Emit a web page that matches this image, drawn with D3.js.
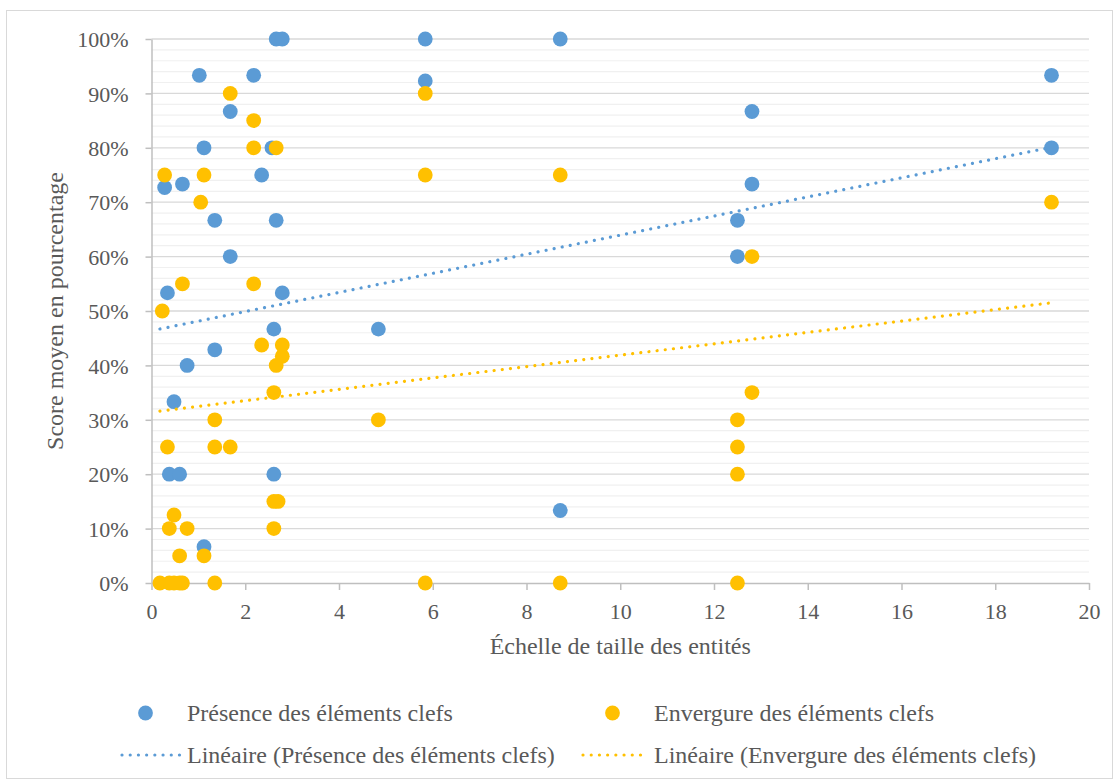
<!DOCTYPE html>
<html>
<head>
<meta charset="utf-8">
<script src="https://cdn.jsdelivr.net/npm/d3@7"></script>
<style>
  html, body { margin: 0; padding: 0; background: #fff; }
  svg { display: block; }
  text { font-family: "Liberation Serif", "Times New Roman", serif; fill: #595959; }
</style>
</head>
<body>
<svg id="chart" width="1119" height="783"></svg>
<script>
// ---------- Data ----------
const seriesNames = ["Présence des éléments clefs", "Envergure des éléments clefs"];
const trendNames = ["Linéaire (Présence des éléments clefs)", "Linéaire (Envergure des éléments clefs)"];

// Présence des éléments clefs : x = échelle de taille, y = score (%)
const presenceX = [2.66, 2.79, 5.84, 8.72, 1.02, 2.18, 19.2, 5.84, 1.68, 12.81,
                   1.12, 2.57, 19.2, 2.35, 0.66, 12.81, 0.28, 1.35, 2.66, 12.5,
                   1.68, 12.5, 0.34, 2.79, 2.61, 4.84, 1.35, 0.76, 0.48, 0.38,
                   0.6, 2.61, 8.72, 1.12];
const presenceY = [100, 100, 100, 100, 93.33, 93.33, 93.33, 92.3, 86.67, 86.67,
                   80, 80, 80, 75, 73.33, 73.33, 72.7, 66.67, 66.67, 66.67,
                   60, 60, 53.33, 53.33, 46.67, 46.67, 42.86, 40, 33.33, 20,
                   20, 20, 13.33, 6.67];

// Envergure des éléments clefs
const envergureX = [1.68, 5.84, 2.18, 2.18, 2.66, 0.28, 1.12, 5.84, 8.72, 1.05,
                    19.2, 12.81, 0.66, 2.18, 0.23, 2.35, 2.79, 2.79, 2.66, 2.61,
                    12.81, 1.35, 4.84, 12.5, 0.34, 1.35, 1.68, 12.5, 12.5, 2.61,
                    2.7, 0.48, 0.38, 0.76, 2.61, 0.6, 1.12, 0.18, 0.38, 0.48,
                    0.6, 0.66, 1.35, 5.84, 8.72, 12.5];
const envergureY = [90, 90, 85, 80, 80, 75, 75, 75, 75, 70,
                    70, 60, 55, 55, 50, 43.75, 43.75, 41.67, 40, 35,
                    35, 30, 30, 30, 25, 25, 25, 25, 20, 15,
                    15, 12.5, 10, 10, 10, 5, 5, 0, 0, 0,
                    0, 0, 0, 0, 0, 0];

// Linear trend lines (as drawn in the picture): x range and y at both ends
const trendX = [0.18, 19.2];
const trendPresenceY = [46.7, 80.1];
const trendEnvergureY = [31.6, 51.5];

// Axis ticks
const xTicks = [0, 2, 4, 6, 8, 10, 12, 14, 16, 18, 20];
const yTicks = [0, 10, 20, 30, 40, 50, 60, 70, 80, 90, 100];
const yMinorTicks = d3.range(0, 101, 2);

const xTitle = "Échelle de taille des entités";
const yTitle = "Score moyen en pourcentage";

// ---------- Styles ----------
const BLUE = "#5B9BD5", YELLOW = "#FFC000";
const svg = d3.select("#chart");

svg.append("rect").attr("x", 6.5).attr("y", 10.5).attr("width", 1106).attr("height", 768)
  .attr("fill", "#fff").attr("stroke", "#d9d9d9").attr("stroke-width", 1);

const plot = { left: 151.5, right: 1089, top: 39, bottom: 583 };
const x = d3.scaleLinear().domain([0, 20]).range([plot.left, plot.right]);
const y = d3.scaleLinear().domain([0, 100]).range([plot.bottom, plot.top]);

// Gridlines
svg.append("g").selectAll("line").data(yMinorTicks.filter(d => d % 10 !== 0)).join("line")
  .attr("x1", plot.left).attr("x2", plot.right)
  .attr("y1", d => y(d)).attr("y2", d => y(d))
  .attr("stroke", "#f0f0f0").attr("stroke-width", 1.2);
svg.append("g").selectAll("line").data(yTicks.filter(d => d > 0)).join("line")
  .attr("x1", plot.left).attr("x2", plot.right)
  .attr("y1", d => y(d)).attr("y2", d => y(d))
  .attr("stroke", "#d9d9d9").attr("stroke-width", 1.3);

// Axes
const yAxis = svg.append("g").attr("transform", `translate(${plot.left},0)`)
  .call(d3.axisLeft(y).tickValues(yTicks).tickFormat(d => d + "%").tickSize(6).tickPadding(17).tickSizeOuter(0));
const xAxis = svg.append("g").attr("transform", `translate(0,${plot.bottom})`)
  .call(d3.axisBottom(x).tickValues(xTicks).tickFormat(d3.format("d")).tickSize(7).tickPadding(13).tickSizeOuter(0));
[yAxis, xAxis].forEach(a => {
  a.select(".domain").attr("stroke", "#bfbfbf").attr("stroke-width", 1.5);
  a.selectAll(".tick line").attr("stroke", "#bfbfbf").attr("stroke-width", 1.5);
  a.selectAll(".tick text").attr("fill", "#595959")
    .style("font-family", '"Liberation Serif", "Times New Roman", serif').style("font-size", "22px");
});
yAxis.selectAll(".tick text").attr("dy", "0.35em");

// Axis titles
svg.append("text").attr("x", x(10)).attr("y", 654).attr("text-anchor", "middle")
  .style("font-size", "24px").text(xTitle);
svg.append("text").attr("transform", `translate(63,${(plot.top + plot.bottom) / 2 + 0}) rotate(-90)`)
  .attr("text-anchor", "middle").style("font-size", "24px").text(yTitle);

// Points
const R = 7.4;
const presence = presenceX.map((v, i) => ({ x: v, y: presenceY[i] }));
const envergure = envergureX.map((v, i) => ({ x: v, y: envergureY[i] }));
svg.append("g").selectAll("circle").data(presence).join("circle")
  .attr("cx", d => x(d.x)).attr("cy", d => y(d.y)).attr("r", R).attr("fill", BLUE);
svg.append("g").selectAll("circle").data(envergure).join("circle")
  .attr("cx", d => x(d.x)).attr("cy", d => y(d.y)).attr("r", R).attr("fill", YELLOW);

// Trend lines (dotted)
const line = d3.line().x(d => x(d[0])).y(d => y(d[1]));
function dotted(sel, color) {
  return sel.attr("fill", "none").attr("stroke", color).attr("stroke-width", 3.2)
    .attr("stroke-linecap", "round").attr("stroke-dasharray", "0.01 8.2");
}
dotted(svg.append("path").attr("d", line(trendX.map((v, i) => [v, trendPresenceY[i]]))), BLUE);
dotted(svg.append("path").attr("d", line(trendX.map((v, i) => [v, trendEnvergureY[i]]))), YELLOW);

// Legend
const lg = svg.append("g");
const legendItems = [
  { type: "dot", color: BLUE, label: seriesNames[0], mx: 145.5, tx: 187, cy: 713 },
  { type: "dot", color: YELLOW, label: seriesNames[1], mx: 612.5, tx: 654, cy: 713 },
  { type: "line", color: BLUE, label: trendNames[0], mx: 121, tx: 187, cy: 755 },
  { type: "line", color: YELLOW, label: trendNames[1], mx: 582, tx: 654, cy: 755 }
];
legendItems.forEach(it => {
  if (it.type === "dot") {
    lg.append("circle").attr("cx", it.mx).attr("cy", it.cy).attr("r", R).attr("fill", it.color);
  } else {
    dotted(lg.append("line").attr("x1", it.mx + 1).attr("x2", it.tx - 7).attr("y1", it.cy).attr("y2", it.cy), it.color);
  }
  lg.append("text").attr("x", it.tx).attr("y", it.cy + 8).style("font-size", "24px").text(it.label);
});
</script>
</body>
</html>
